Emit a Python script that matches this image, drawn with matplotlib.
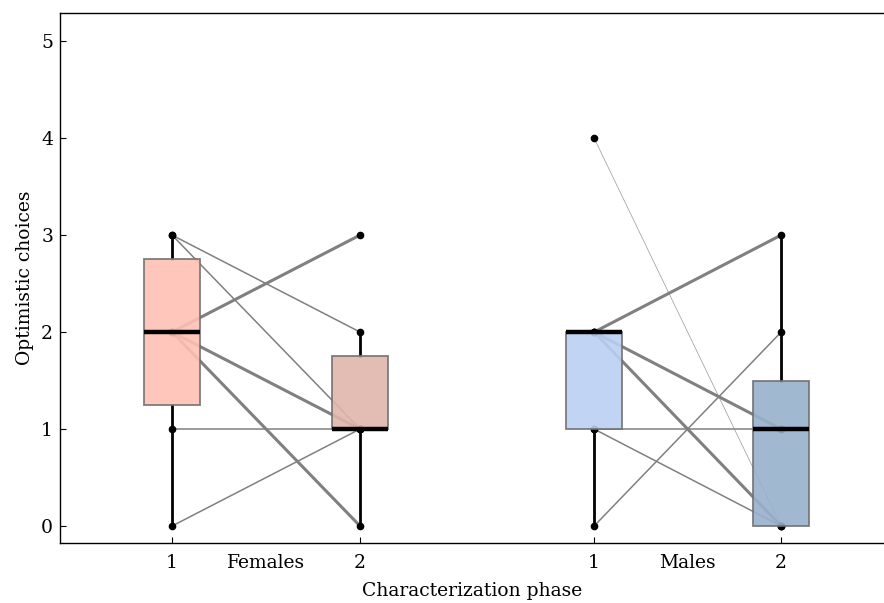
import numpy as np
import matplotlib.pyplot as plt

plt.rcParams['font.family'] = ['DejaVu Serif']
plt.rcParams['font.size'] = 13.5

# Box positions and tick labels
positions = [1, 2, 3.245, 4.24]
tick_labels = ['1', '2', '1', '2']
groups = ['Females', 'Males']

# Box statistics: F1, F2, M1, M2
q1 = [1.25, 1.0, 1.0, 0.0]
med = [2.0, 1.0, 2.0, 1.0]
q3 = [2.75, 1.75, 2.0, 1.5]
whislo = [0, 0, 0, 0]
whishi = [3, 2, 2, 3]
fliers = [[], [3], [4], []]
box_colors = ['#ffc0b4', '#e0b5ac', '#bbd0f2', '#97b1cc']

# Paired changes (phase 1 -> phase 2) and number of individuals
fem_from = [3, 3, 2, 2, 2, 1, 0]
fem_to = [2, 1, 3, 1, 0, 1, 1]
fem_n = [2, 2, 4, 4, 4, 2, 2]
male_from = [4, 2, 2, 2, 1, 1, 0]
male_to = [0, 3, 1, 0, 1, 0, 2]
male_n = [1, 4, 4, 4, 2, 2, 2]

fig = plt.figure(figsize=(8.84, 6.03), dpi=100)
ax = fig.add_axes([60 / 884, 1 - 543 / 603, 1 - 60 / 884, (543 - 13) / 603])

# connecting lines between the two phases
pairs = [(positions[0], positions[1], fem_from, fem_to, fem_n),
         (positions[2], positions[3], male_from, male_to, male_n)]
for xa, xb, y1, y2, n in pairs:
    for a, b, k in zip(y1, y2, n):
        col = '#a0a0a0' if k == 1 else '#808080'
        ax.plot([xa, xb], [a, b], color=col, lw=0.55 * k, zorder=1,
                solid_capstyle='butt')
    ax.plot([xa] * len(y1), y1, 'o', color='black', ms=4.5, zorder=2)
    ax.plot([xb] * len(y2), y2, 'o', color='black', ms=4.5, zorder=2)

stats = []
for i in range(4):
    stats.append(dict(med=med[i], q1=q1[i], q3=q3[i], whislo=whislo[i],
                      whishi=whishi[i], fliers=fliers[i]))

bp = ax.bxp(stats, positions=positions, widths=0.3, patch_artist=True,
            showcaps=False, showfliers=False,
            boxprops=dict(edgecolor='#707070', linewidth=1.3),
            whiskerprops=dict(color='black', linewidth=2),
            medianprops=dict(color='black', linewidth=3.2, solid_capstyle='butt'),
            manage_ticks=False, zorder=3)
for patch, c in zip(bp['boxes'], box_colors):
    patch.set_facecolor(c)
    patch.set_alpha(0.9)
    patch.set_edgecolor('#707070')
for w in bp['whiskers']:
    w.set_zorder(0.5)
for m in bp['medians']:
    m.set_zorder(4)

ax.set_xlim(0.404, 4.787)
ax.set_ylim(-0.175, 5.29)
ax.set_yticks(range(6))
ax.set_xticks(positions)
ax.set_xticklabels(tick_labels)
ax.tick_params(direction='in', length=4, width=0.8)
ax.tick_params(axis='y', pad=5)
ax.tick_params(axis='x', pad=8)
ax.spines['right'].set_visible(False)
for s in ['left', 'top', 'bottom']:
    ax.spines[s].set_linewidth(1.0)

# group names sit on the tick label line
for g, x in zip(groups, [(positions[0] + positions[1]) / 2,
                         (positions[2] + positions[3]) / 2]):
    ax.annotate(g, xy=(x, 0), xycoords=('data', 'axes fraction'),
                xytext=(0, -8), textcoords='offset points',
                ha='center', va='top')

ax.set_xlabel('Characterization phase', labelpad=7)
ax.set_ylabel('Optimistic choices', labelpad=5)

fig.savefig('out.png', dpi=100)
